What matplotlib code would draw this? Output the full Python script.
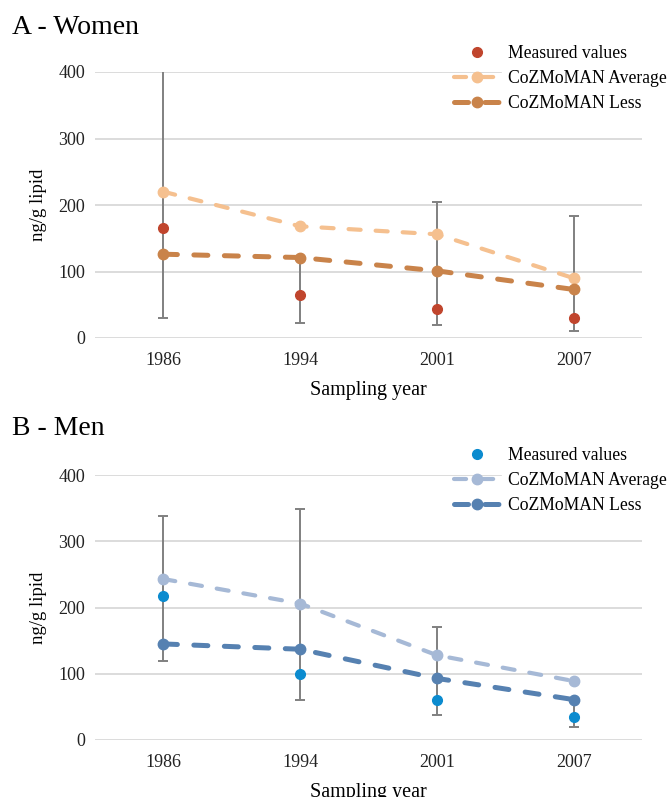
import numpy as np
import matplotlib.pyplot as plt

plt.rcParams['font.family'] = ['Liberation Serif', 'DejaVu Serif']

years = ["1986", "1994", "2001", "2007"]

# A - Women
w_meas = [165, 65, 43, 30]
w_low = [30, 23, 19, 10]
w_high = [430, 118, 204, 183]
w_avg = [220, 168, 156, 90]
w_less = [126, 121, 101, 73]

# B - Men
m_meas = [218, 99, 61, 35]
m_low = [119, 61, 38, 19]
m_high = [338, 348, 171, 58]
m_avg = [243, 206, 128, 89]
m_less = [145, 137, 93, 61]

W, H = 670, 797
fig = plt.figure(figsize=(W / 100, H / 100), dpi=100)


def panel(top_px, bottom_px, title, title_y, meas, low, high, avg, less,
          c_meas, c_avg, c_less, leg_y):
    ax = fig.add_axes([95 / W, 1 - bottom_px / H, 547 / W, (bottom_px - top_px) / H])
    x = np.arange(len(years))
    meas = np.array(meas)
    yerr = [meas - np.array(low), np.array(high) - meas]
    ax.errorbar(x, meas, yerr=yerr, fmt='none', ecolor='#808080', elinewidth=1.4,
                capsize=3.3, capthick=1.4, zorder=2)
    ax.plot(x, avg, color=c_avg, lw=3.0, ls=(0, (2.9, 3.6)), dash_capstyle='round',
            marker='o', ms=7.5, label='CoZMoMAN Average', zorder=3)
    ax.plot(x, less, color=c_less, lw=3.6, ls=(0, (2.8, 3.3)), dash_capstyle='round',
            marker='o', ms=7.5, label='CoZMoMAN Less', zorder=4)
    ax.plot(x, meas, ls='none', marker='o', ms=7, color=c_meas,
            label='Measured values', zorder=5)

    ax.set_xlim(-0.5, 3.5)
    ax.set_ylim(0, 400)
    ax.set_yticks([0, 100, 200, 300, 400])
    ax.set_xticks(x)
    ax.set_xticklabels(years)
    ax.grid(axis='y', color='#d9d9d9', lw=1.3)
    ax.set_axisbelow(True)
    for s in ax.spines.values():
        s.set_visible(False)
    ax.tick_params(axis='both', length=0, labelsize=13, colors='#222222')
    ax.tick_params(axis='x', pad=10)
    ax.tick_params(axis='y', pad=7)
    ax.set_ylabel('ng/g lipid', fontsize=13.5, labelpad=8)
    ax.set_xlabel('Sampling year', fontsize=14.5, labelpad=9)

    h, l = ax.get_legend_handles_labels()
    order = [2, 0, 1]
    leg = fig.legend([h[i] for i in order], [l[i] for i in order],
                     loc='upper left', bbox_to_anchor=(447 / W, 1 - leg_y / H),
                     frameon=False, fontsize=12.7, handlelength=2.6,
                     handletextpad=0.45, labelspacing=0.45, borderaxespad=0)
    for t in leg.get_texts():
        t.set_backgroundcolor('white')
    fig.text(12 / W, 1 - title_y / H, title, fontsize=20, va='center', ha='left')
    return ax


panel(72, 338, 'A - Women', 28, w_meas, w_low, w_high, w_avg, w_less,
      '#c0452d', '#f5c08f', '#c9834a', 38)
panel(475, 740, 'B - Men', 429, m_meas, m_low, m_high, m_avg, m_less,
      '#0b8bcf', '#a6b9d6', '#5681b1', 440)

fig.savefig('out.png', dpi=100)
